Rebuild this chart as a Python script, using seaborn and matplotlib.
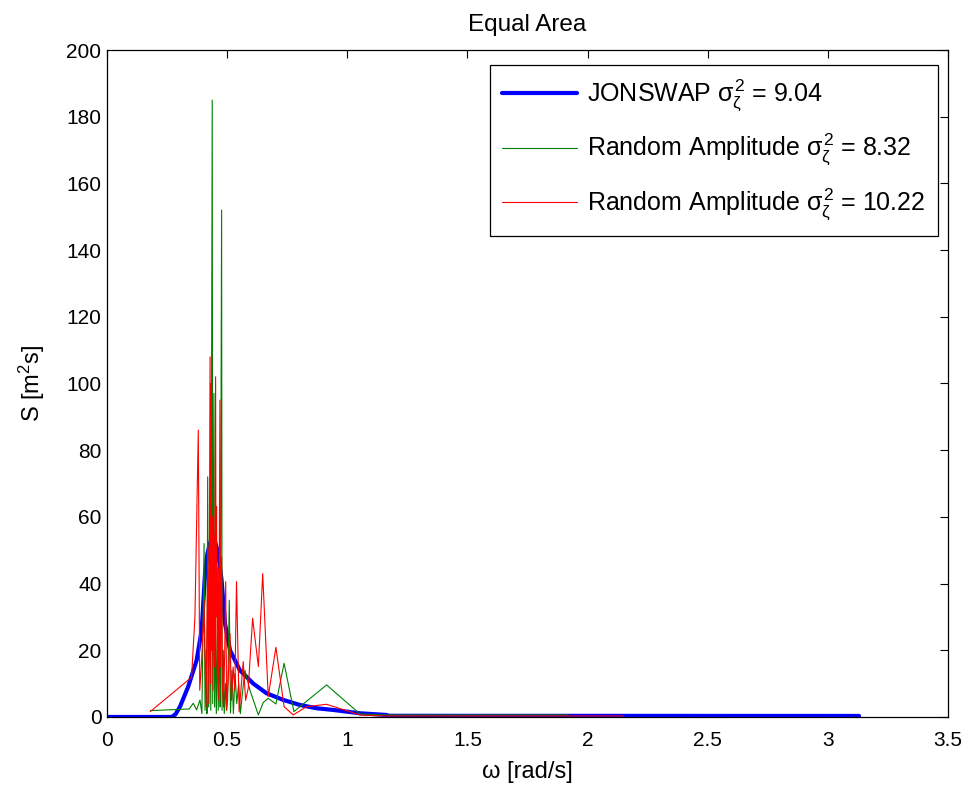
import matplotlib
matplotlib.use("Agg")
import matplotlib.pyplot as plt
import seaborn as sns
import pandas as pd

# JONSWAP spectrum
jonswap_w = [0.0, 0.27, 0.285, 0.304, 0.338, 0.373, 0.394, 0.408, 0.418, 0.430, 0.442,
             0.452, 0.463, 0.477, 0.491, 0.512, 0.553, 0.609, 0.664, 0.734, 0.803,
             0.873, 0.942, 1.053, 1.164, 1.17, 3.13]
jonswap_s = [0.0, 0.0, 0.8, 3.1, 9.1, 17.0, 26.0, 43.0, 49.0, 52.5, 54.0,
             52.0, 49.0, 41.0, 28.0, 20.0, 14.0, 10.0, 7.1, 5.1, 3.6,
             2.6, 2.1, 1.1, 0.6, 0.35, 0.3]

# Random amplitude realisation 1 (green)
green_w = [0.18, 0.342, 0.359, 0.373, 0.387, 0.395, 0.404, 0.408, 0.413, 0.416, 0.419,
           0.423, 0.428, 0.432, 0.438, 0.440, 0.445, 0.448, 0.452, 0.455, 0.460,
           0.463, 0.468, 0.471, 0.477, 0.479, 0.484, 0.488, 0.493, 0.497, 0.502,
           0.509, 0.514, 0.520, 0.526, 0.533, 0.540, 0.548, 0.555, 0.562, 0.574,
           0.595, 0.630, 0.650, 0.671, 0.703, 0.737, 0.778, 0.803, 0.914, 1.053,
           1.16, 1.92]
green_s = [1.9, 2.4, 4.1, 2.1, 5.1, 1.0, 52.0, 2.0, 20.0, 1.0, 72.0,
           3.0, 40.0, 2.0, 185.0, 4.0, 97.0, 3.0, 30.0, 1.0, 25.0,
           2.0, 40.0, 3.0, 152.0, 2.0, 20.0, 1.0, 10.0, 2.0, 5.0,
           35.0, 1.2, 14.0, 1.0, 13.0, 4.0, 10.0, 1.0, 6.0, 14.0,
           8.0, 0.6, 4.3, 5.6, 3.9, 16.1, 1.6, 3.1, 9.6, 0.9,
           0.6, 0.6]

# Random amplitude realisation 2 (red)
red_w = [0.18, 0.342, 0.352, 0.366, 0.380, 0.386, 0.394, 0.404, 0.412, 0.420, 0.424,
         0.429, 0.431, 0.433, 0.436, 0.439, 0.441, 0.444, 0.447, 0.452, 0.454,
         0.456, 0.459, 0.462, 0.465, 0.470, 0.473, 0.477, 0.480, 0.485, 0.490,
         0.494, 0.498, 0.505, 0.512, 0.518, 0.525, 0.532, 0.539, 0.550, 0.567,
         0.577, 0.588, 0.606, 0.630, 0.648, 0.671, 0.703, 0.737, 0.775, 0.831,
         0.914, 1.053, 1.16, 2.15]
red_s = [1.6, 11.3, 12.0, 30.0, 86.0, 8.0, 17.0, 35.0, 3.0, 51.0, 4.0,
         108.0, 10.0, 100.0, 20.0, 60.0, 8.0, 55.0, 15.0, 102.0, 30.0,
         63.0, 12.0, 45.0, 5.0, 95.0, 15.0, 48.0, 10.0, 3.0, 20.0,
         40.6, 2.0, 12.0, 25.0, 5.0, 15.0, 8.0, 40.6, 1.6, 16.6,
         5.0, 8.7, 29.6, 15.1, 43.0, 6.1, 20.9, 3.1, 0.6, 3.1,
         3.8, 0.6, 0.3, 0.3]

labels = [r"JONSWAP $\sigma_\zeta^2$ = 9.04",
          r"Random Amplitude $\sigma_\zeta^2$ = 8.32",
          r"Random Amplitude $\sigma_\zeta^2$ = 10.22"]
xticks = [0, 0.5, 1, 1.5, 2, 2.5, 3, 3.5]
xticklabels = ["0", "0.5", "1", "1.5", "2", "2.5", "3", "3.5"]
yticks = list(range(0, 201, 20))

sns.set_theme(style="white")
plt.rcParams["font.family"] = ["Liberation Sans", "DejaVu Sans"]
plt.rcParams["mathtext.fontset"] = "custom"
plt.rcParams["mathtext.rm"] = "Liberation Sans"
plt.rcParams["mathtext.it"] = "Liberation Sans"
plt.rcParams["xtick.direction"] = "in"
plt.rcParams["ytick.direction"] = "in"
plt.rcParams["text.color"] = "black"
plt.rcParams["axes.labelcolor"] = "black"
plt.rcParams["xtick.color"] = "black"
plt.rcParams["ytick.color"] = "black"

fig = plt.figure(figsize=(9.70, 7.89), dpi=100)
ax = fig.add_axes([0.1103, 0.0913, 0.8670, 0.8453])

sns.lineplot(x=jonswap_w, y=jonswap_s, ax=ax, color="#0000ff", linewidth=3.0,
             label=labels[0], sort=False, estimator=None)
sns.lineplot(x=green_w, y=green_s, ax=ax, color="#008000", linewidth=0.8,
             label=labels[1], sort=False, estimator=None)
sns.lineplot(x=red_w, y=red_s, ax=ax, color="#ff0000", linewidth=0.8,
             label=labels[2], sort=False, estimator=None)

ax.set_xlim(0, 3.5)
ax.set_ylim(0, 200)
ax.set_xticks(xticks)
ax.set_xticklabels(xticklabels)
ax.set_yticks(yticks)
ax.tick_params(axis="both", which="both", top=True, right=True, length=6,
               width=0.8, color="black", labelcolor="black", labelsize=15)
ax.tick_params(axis="x", pad=10)
ax.tick_params(axis="y", pad=4)
for sp in ax.spines.values():
    sp.set_color("black")
    sp.set_linewidth(0.9)

ax.set_title("Equal Area", fontsize=17.5, pad=14, color="black")
ax.set_xlabel("ω [rad/s]", fontsize=17, labelpad=8)
ax.set_ylabel(r"S [m$^2$s]", fontsize=17, labelpad=14)

leg = ax.legend(loc="upper right", bbox_to_anchor=(0.988, 0.9775), borderaxespad=0,
                fontsize=18, frameon=True, fancybox=False,
                edgecolor="black", framealpha=1, borderpad=0.5,
                handlelength=3.0, handletextpad=0.4, labelspacing=0.75)
leg.get_frame().set_linewidth(0.9)
for t in leg.get_texts():
    t.set_color("black")

fig.savefig("out.png", dpi=100, facecolor="white")
